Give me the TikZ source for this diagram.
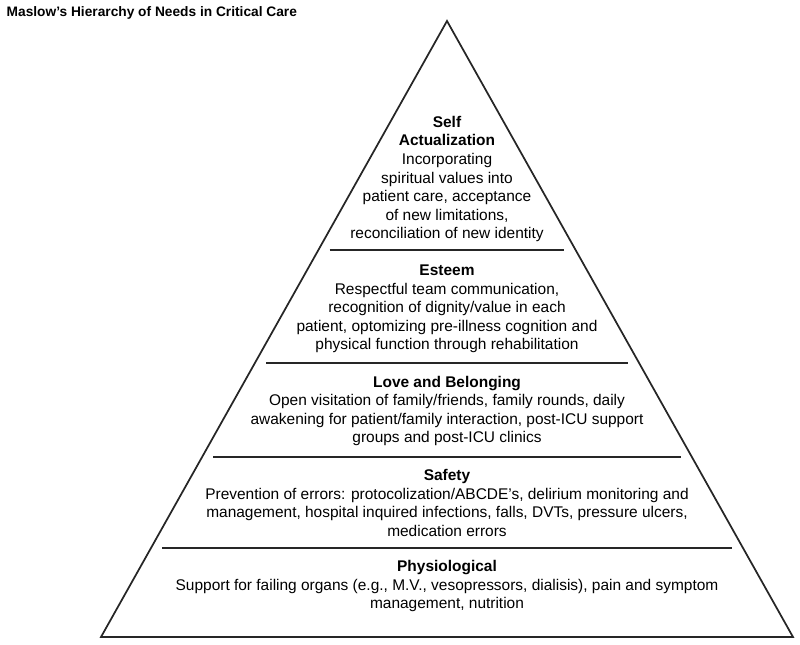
\documentclass[tikz,border=0pt]{standalone}
\usepackage{fontspec}
\setmainfont{Liberation Sans}
\usetikzlibrary{calc}

\tikzset{
  level/.style={align=center,font=\fontsize{11.6}{13.9}\selectfont},
  divider/.style={line width=2pt,black!85},
}

\begin{document}
\begin{tikzpicture}[x=0.75pt,y=-0.75pt]
  \useasboundingbox (0,0) rectangle (800,644);
  \node[anchor=west,font=\bfseries\fontsize{10.3}{12}\selectfont] (title) at (2,12.5) {Maslow’s Hierarchy of Needs in Critical Care};
  % pyramid outline
  \coordinate (apex) at (447,21);
  \coordinate (bl) at (101,637);
  \coordinate (br) at (793,637);
  \draw[line width=1.3pt,black!85,line join=miter] (apex) -- (br) -- (bl) -- cycle;
  % level separators, kept clear of the sides
  \foreach \yy in {250,363,457,548}{
    \pgfmathsetmacro\hw{(\yy-21)*0.5608-11}
    \draw[divider] (447-\hw,\yy) -- (447+\hw,\yy);
  }
  \node[level] (self) at (447,179) {\textbf{Self}\\\textbf{Actualization}\\Incorporating\\spiritual values into\\patient care, acceptance\\of new limitations,\\reconciliation of new identity};
  \node[level] (esteem) at (447,309) {\textbf{Esteem}\\Respectful team communication,\\recognition of dignity/value in each\\patient, optomizing pre-illness cognition and\\physical function through rehabilitation};
  \node[level] (love) at (447,411) {\textbf{Love and Belonging}\\Open visitation of family/friends, family rounds, daily\\awakening for patient/family interaction, post-ICU support\\groups and post-ICU clinics};
  \node[level] (safety) at (447,503) {\textbf{Safety}\\Prevention of errors: protocolization/ABCDE’s, delirium monitoring and\\management, hospital inquired infections, falls, DVTs, pressure ulcers,\\medication errors};
  \node[level] (physio) at (447,586) {\textbf{Physiological}\\Support for failing organs (e.g., M.V., vesopressors, dialisis), pain and symptom\\management, nutrition};
\end{tikzpicture}
\end{document}
